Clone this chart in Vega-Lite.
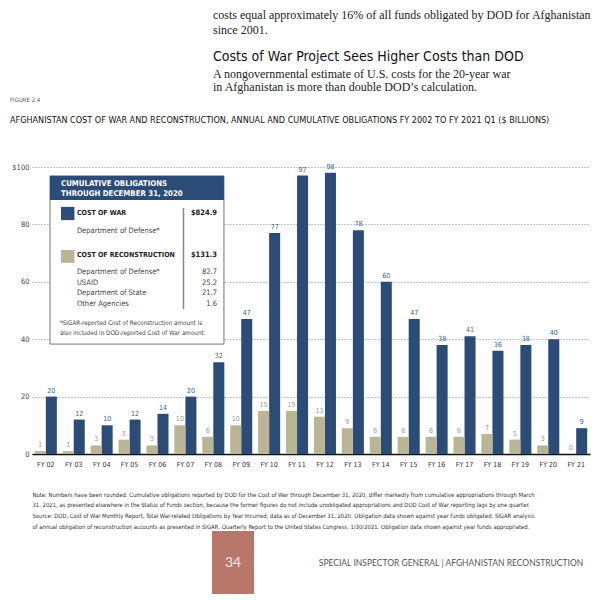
{
  "$schema": "https://vega.github.io/schema/vega-lite/v6.json",
  "background": "white",
  "padding": {"left": 0, "top": 8, "right": 0, "bottom": 0},
  "spacing": 1,
  "config": {"view": {"stroke": null}, "font": "DejaVu Sans Condensed", "concat": {"spacing": 1}},
  "title": {
    "text": ["costs equal approximately 16% of all funds obligated by DOD for Afghanistan", "since 2001."],
    "subtitle": "Costs of War Project Sees Higher Costs than DOD",
    "anchor": "start", "frame": "bounds", "dx": 213,
    "font": "Liberation Serif", "fontSize": 12, "fontWeight": "normal", "color": "#222", "lineHeight": 15,
    "subtitleFont": "DejaVu Sans Condensed", "subtitleFontSize": 14, "subtitleColor": "#111", "subtitlePadding": 13, "offset": 3.5
  },
  "vconcat": [
    {
      "width": 380, "height": 1,
      "title": {"text": ["A nongovernmental estimate of U.S. costs for the 20-year war", "in Afghanistan is more than double DOD’s calculation."], "anchor": "start", "frame": "bounds", "dx": 181, "font": "Liberation Serif", "fontSize": 12, "fontWeight": "normal", "lineHeight": 13, "color": "#222", "offset": 0},
      "data": {"values": [{}]},
      "mark": {"type": "rect", "opacity": 0},
      "encoding": {}
    },
    {
      "width": 558, "height": 287,
      "title": {"text": "FIGURE 2.4", "subtitle": "AFGHANISTAN COST OF WAR AND RECONSTRUCTION, ANNUAL AND CUMULATIVE OBLIGATIONS FY 2002 TO FY 2021 Q1  ($ BILLIONS)", "anchor": "start", "frame": "bounds", "dx": 10, "font": "DejaVu Sans Condensed", "fontSize": 6, "fontWeight": "normal", "color": "#555", "subtitleFont": "DejaVu Sans Condensed", "subtitleFontSize": 9, "subtitleColor": "#111", "subtitlePadding": 13, "offset": 38},
      "data": {"values": [
        {"fy": "FY 02", "series": "Cost of War", "value": 20}, {"fy": "FY 02", "series": "Cost of Reconstruction", "value": 1},
        {"fy": "FY 03", "series": "Cost of War", "value": 12}, {"fy": "FY 03", "series": "Cost of Reconstruction", "value": 1},
        {"fy": "FY 04", "series": "Cost of War", "value": 10}, {"fy": "FY 04", "series": "Cost of Reconstruction", "value": 3},
        {"fy": "FY 05", "series": "Cost of War", "value": 12}, {"fy": "FY 05", "series": "Cost of Reconstruction", "value": 5},
        {"fy": "FY 06", "series": "Cost of War", "value": 14}, {"fy": "FY 06", "series": "Cost of Reconstruction", "value": 3},
        {"fy": "FY 07", "series": "Cost of War", "value": 20}, {"fy": "FY 07", "series": "Cost of Reconstruction", "value": 10},
        {"fy": "FY 08", "series": "Cost of War", "value": 32}, {"fy": "FY 08", "series": "Cost of Reconstruction", "value": 6},
        {"fy": "FY 09", "series": "Cost of War", "value": 47}, {"fy": "FY 09", "series": "Cost of Reconstruction", "value": 10},
        {"fy": "FY 10", "series": "Cost of War", "value": 77}, {"fy": "FY 10", "series": "Cost of Reconstruction", "value": 15},
        {"fy": "FY 11", "series": "Cost of War", "value": 97}, {"fy": "FY 11", "series": "Cost of Reconstruction", "value": 15},
        {"fy": "FY 12", "series": "Cost of War", "value": 98}, {"fy": "FY 12", "series": "Cost of Reconstruction", "value": 13},
        {"fy": "FY 13", "series": "Cost of War", "value": 78}, {"fy": "FY 13", "series": "Cost of Reconstruction", "value": 9},
        {"fy": "FY 14", "series": "Cost of War", "value": 60}, {"fy": "FY 14", "series": "Cost of Reconstruction", "value": 6},
        {"fy": "FY 15", "series": "Cost of War", "value": 47}, {"fy": "FY 15", "series": "Cost of Reconstruction", "value": 6},
        {"fy": "FY 16", "series": "Cost of War", "value": 38}, {"fy": "FY 16", "series": "Cost of Reconstruction", "value": 6},
        {"fy": "FY 17", "series": "Cost of War", "value": 41}, {"fy": "FY 17", "series": "Cost of Reconstruction", "value": 6},
        {"fy": "FY 18", "series": "Cost of War", "value": 36}, {"fy": "FY 18", "series": "Cost of Reconstruction", "value": 7},
        {"fy": "FY 19", "series": "Cost of War", "value": 38}, {"fy": "FY 19", "series": "Cost of Reconstruction", "value": 5},
        {"fy": "FY 20", "series": "Cost of War", "value": 40}, {"fy": "FY 20", "series": "Cost of Reconstruction", "value": 3},
        {"fy": "FY 21", "series": "Cost of War", "value": 9}, {"fy": "FY 21", "series": "Cost of Reconstruction", "value": 0}
      ]},
      "resolve": {"scale": {"x": "independent"}},
      "layer": [
        {
          "layer": [
            {
              "mark": {"type": "bar"},
              "encoding": {
                "x": {"field": "fy", "type": "nominal", "sort": null, "scale": {"paddingInner": 0.21, "paddingOuter": 0.1},
                  "axis": {"title": [
                    "Note: Numbers have been rounded. Cumulative obligations reported by DOD for the Cost of War through December 31, 2020, differ markedly from cumulative appropriations through March",
                    "31, 2021, as presented elsewhere in the Status of Funds section, because the former figures do not include unobligated appropriations and DOD Cost of War reporting lags by one quarter.",
                    "Source: DOD, Cost of War Monthly Report, Total War-related Obligations by Year Incurred, data as of December 31, 2020. Obligation data shown against year funds obligated. SIGAR analysis",
                    "of annual obligation of reconstruction accounts as presented in SIGAR, Quarterly Report to the United States Congress, 1/30/2021. Obligation data shown against year funds appropriated."
                  ],
                  "labelAngle": 0, "labelFontSize": 7, "labelColor": "#333", "labelPadding": 6, "ticks": false,
                  "domainColor": "#111", "domainWidth": 1.5,
                  "titleAnchor": "start", "titleAlign": "left", "titleFontSize": 5.9, "titleFontWeight": "normal", "titleColor": "#333", "titleLineHeight": 10.7, "titlePadding": 24, "titleFont": "DejaVu Sans Condensed"}},
                "xOffset": {"field": "series", "type": "nominal", "sort": ["Cost of Reconstruction", "Cost of War"], "scale": {"paddingInner": 0, "paddingOuter": 0}},
                "y": {"field": "value", "type": "quantitative", "scale": {"domain": [0, 100], "nice": false},
                  "axis": {"title": null, "values": [0, 20, 40, 60, 80, 100], "labelExpr": "datum.value == 100 ? '$100' : datum.label",
                    "grid": true, "gridDash": [1, 2], "gridColor": "#8a8a8a", "domain": false, "ticks": false,
                    "labelFontSize": 7.5, "labelColor": "#444", "labelPadding": 3, "minExtent": 32, "maxExtent": 32}},
                "color": {"field": "series", "type": "nominal", "scale": {"domain": ["Cost of War", "Cost of Reconstruction"], "range": ["#2c4c78", "#bcb595"]}, "legend": null}
              }
            },
            {
              "mark": {"type": "text", "dy": -6, "fontSize": 7, "font": "DejaVu Sans Condensed"},
              "encoding": {
                "x": {"field": "fy", "type": "nominal", "sort": null},
                "xOffset": {"field": "series", "type": "nominal", "sort": ["Cost of Reconstruction", "Cost of War"]},
                "y": {"field": "value", "type": "quantitative"},
                "text": {"field": "value", "type": "quantitative"},
                "fill": {"field": "series", "type": "nominal", "scale": {"domain": ["Cost of War", "Cost of Reconstruction"], "range": ["#3d5c88", "#9a9788"]}, "legend": null}
              }
            }
          ]
        },
        {
          "data": {"values": [{}]},
          "layer": [
            {"mark": {"type": "rect", "fill": "white", "stroke": "#777", "strokeWidth": 1},
              "encoding": {"x": {"datum": 0.645, "type": "quantitative", "scale": {"domain": [0, 20]}, "axis": null}, "x2": {"datum": 6.88}, "y": {"datum": 96.9, "type": "quantitative"}, "y2": {"datum": 38.3}}},
            {"mark": {"type": "rect", "fill": "#2c4c78"},
              "encoding": {"x": {"datum": 0.645, "type": "quantitative", "scale": {"domain": [0, 20]}, "axis": null}, "x2": {"datum": 6.88}, "y": {"datum": 96.9, "type": "quantitative"}, "y2": {"datum": 88.5}}},
            {"mark": {"type": "text", "align": "left", "baseline": "top", "lineBreak": "\n", "lineHeight": 9.5, "fontSize": 7.8, "fontWeight": "bold", "fill": "white"},
              "encoding": {"x": {"datum": 1.04, "type": "quantitative"}, "y": {"datum": 95.4, "type": "quantitative"}, "text": {"value": "CUMULATIVE OBLIGATIONS\nTHROUGH DECEMBER 31, 2020"}}},
            {"mark": {"type": "rect", "fill": "#2c4c78"},
              "encoding": {"x": {"datum": 1.04, "type": "quantitative"}, "x2": {"datum": 1.52}, "y": {"datum": 86.1, "type": "quantitative"}, "y2": {"datum": 81.5}}},
            {"mark": {"type": "rect", "fill": "#bcb595"},
              "encoding": {"x": {"datum": 1.04, "type": "quantitative"}, "x2": {"datum": 1.52}, "y": {"datum": 71.1, "type": "quantitative"}, "y2": {"datum": 66.6}}},
            {"mark": {"type": "text", "align": "left", "baseline": "middle", "fontSize": 7, "fontWeight": "bold", "fill": "#222"},
              "encoding": {"x": {"datum": 1.61, "type": "quantitative"}, "y": {"datum": 84, "type": "quantitative"}, "text": {"value": "COST OF WAR"}}},
            {"mark": {"type": "text", "align": "right", "baseline": "middle", "fontSize": 7.5, "fontWeight": "bold", "fill": "#222"},
              "encoding": {"x": {"datum": 6.63, "type": "quantitative"}, "y": {"datum": 84, "type": "quantitative"}, "text": {"value": "$824.9"}}},
            {"mark": {"type": "text", "align": "left", "baseline": "middle", "fontSize": 7.5, "fill": "#444"},
              "encoding": {"x": {"datum": 1.61, "type": "quantitative"}, "y": {"datum": 77.7, "type": "quantitative"}, "text": {"value": "Department of Defense*"}}},
            {"mark": {"type": "text", "align": "left", "baseline": "middle", "fontSize": 7, "fontWeight": "bold", "fill": "#222"},
              "encoding": {"x": {"datum": 1.61, "type": "quantitative"}, "y": {"datum": 69.3, "type": "quantitative"}, "text": {"value": "COST OF RECONSTRUCTION"}}},
            {"mark": {"type": "text", "align": "right", "baseline": "middle", "fontSize": 7.5, "fontWeight": "bold", "fill": "#222"},
              "encoding": {"x": {"datum": 6.63, "type": "quantitative"}, "y": {"datum": 69.3, "type": "quantitative"}, "text": {"value": "$131.3"}}},
            {"mark": {"type": "text", "align": "left", "baseline": "top", "fontSize": 7.5, "fill": "#444", "lineBreak": "\n", "lineHeight": 10.7},
              "encoding": {"x": {"datum": 1.61, "type": "quantitative"}, "y": {"datum": 64.8, "type": "quantitative"}, "text": {"value": "Department of Defense*\nUSAID\nDepartment of State\nOther Agencies"}}},
            {"mark": {"type": "text", "align": "right", "baseline": "top", "fontSize": 7.5, "fill": "#444", "lineBreak": "\n", "lineHeight": 10.7},
              "encoding": {"x": {"datum": 6.63, "type": "quantitative"}, "y": {"datum": 64.8, "type": "quantitative"}, "text": {"value": "82.7\n25.2\n21.7\n1.6"}}},
            {"mark": {"type": "rule", "stroke": "#888", "strokeWidth": 1.5},
              "encoding": {"x": {"datum": 5.43, "type": "quantitative"}, "y": {"datum": 85.7, "type": "quantitative"}, "y2": {"datum": 50.5}}},
            {"mark": {"type": "text", "align": "left", "baseline": "top", "fontSize": 6.3, "fill": "#444", "lineBreak": "\n", "lineHeight": 10},
              "encoding": {"x": {"datum": 1.0, "type": "quantitative"}, "y": {"datum": 46.7, "type": "quantitative"}, "text": {"value": "*SIGAR-reported Cost of Reconstruction amount is\nalso included in DOD-reported Cost of War amount."}}}
          ]
        }
      ]
    },
    {
      "spacing": 0,
      "hconcat": [
        {"width": 180, "height": 63, "title": {"text": " ", "fontSize": 1, "offset": 0}, "data": {"values": [{}]}, "mark": {"type": "rect", "opacity": 0}, "encoding": {}},
        {"width": 42, "height": 63, "data": {"values": [{"page": "34"}]},
          "layer": [
            {"mark": {"type": "rect", "fill": "#b9776b"}, "encoding": {}},
            {"mark": {"type": "text", "fontSize": 14, "font": "Lato", "fill": "#f6e9e6"}, "encoding": {"text": {"field": "page"}}}
          ]},
        {"width": 62, "height": 63, "data": {"values": [{}]}, "mark": {"type": "rect", "opacity": 0}, "encoding": {}},
        {"width": 264, "height": 63, "data": {"values": [{"head": "SPECIAL INSPECTOR GENERAL  |  AFGHANISTAN RECONSTRUCTION"}]},
          "mark": {"type": "text", "font": "Lato", "fontSize": 8.5, "fill": "#555"}, "encoding": {"text": {"field": "head"}}}
      ]
    }
  ]
}
